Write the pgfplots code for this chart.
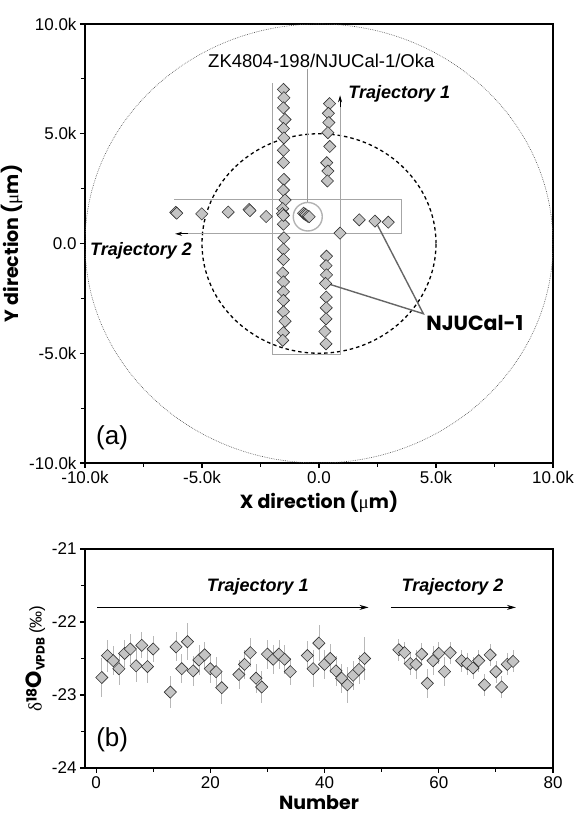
\documentclass[border=0pt]{standalone}
\usepackage{fontspec}
\setmainfont{Liberation Sans}
\newfontfamily\geo{Poppins}
\newfontfamily\serif{Liberation Serif}
\usepackage{pgfplots}
\pgfplotsset{compat=1.18}
\usetikzlibrary{arrows.meta}
\definecolor{mk}{HTML}{C4C4C4}
\definecolor{mkedge}{HTML}{333333}
\pgfplotsset{
  common/.style={
    scale only axis, width=468pt,
    tick align=outside, xtick pos=bottom, ytick pos=left,
    major tick length=5pt, minor tick length=4pt,
    every tick/.style={black, line width=1.1pt},
    axis line style={line width=1.3pt, black},
    ticklabel style={font=\fontsize{17}{20}\selectfont},
    label style={font=\geo\bfseries\fontsize{19}{22}\selectfont},
  },
  dia/.style={only marks, mark=square*, mark size=4.3pt,
    mark options={rotate=45, fill=mk, draw=mkedge, line width=0.6pt}},
}
\begin{document}
\begin{tikzpicture}[x=1pt,y=1pt]
\path[use as bounding box] (0,0) rectangle (576,823);
\begin{axis}[common,
  height=439pt, at={(85pt,360pt)}, anchor=south west,
  xmin=-10, xmax=10, ymin=-10, ymax=10,
  xtick={-10,-5,0,5,10}, xticklabels={-10.0k,-5.0k,0.0,5.0k,10.0k},
  ytick={-10,-5,0,5,10}, yticklabels={-10.0k,-5.0k,0.0,5.0k,10.0k},
  minor xtick={-7.5,-2.5,2.5,7.5}, minor ytick={-7.5,-2.5,2.5,7.5},
  xlabel={X direction ({\serif\mdseries μ}m)},
  ylabel={Y direction ({\serif\mdseries μ}m)},
]
\draw[color=black!70, line width=0.6pt, dash pattern=on 0.7pt off 1.1pt] (axis cs:0,0) ellipse [x radius=10, y radius=10];
\draw[black, line width=1.3pt, dash pattern=on 3.5pt off 3pt] (axis cs:0,0) ellipse [x radius=5, y radius=5];
% guide lines
\draw[black!35, line width=0.7pt] (axis cs:-2.0,7.3) -- (axis cs:-2.0,-5.06) -- (axis cs:0.9,-5.06);
\draw[black!35, line width=0.7pt] (axis cs:0.9,-5.06) -- (axis cs:0.9,6.6);
\draw[-{Stealth[length=7pt,width=4pt]}, black, line width=0.7pt] (axis cs:0.9,6.2) -- (axis cs:0.9,6.75);
\draw[black!35, line width=0.7pt] (axis cs:-6.2,2.03) -- (axis cs:3.53,2.03) -- (axis cs:3.53,0.44) -- (axis cs:-5.6,0.44);
\draw[-{Stealth[length=7pt,width=4pt]}, black, line width=0.7pt] (axis cs:-5.6,0.44) -- (axis cs:-6.15,0.44);
\draw[black!40, line width=1.4pt] (axis cs:-0.5,7.95) -- (axis cs:-0.5,1.87);
\draw[black!30, line width=1.4pt] (axis cs:-0.48,1.22) ellipse [x radius=0.62, y radius=0.65];
\draw[black!60, line width=1.4pt] (axis cs:0.4,-1.84) -- (axis cs:4.46,-3.2) -- (axis cs:2.51,0.82);
\addplot[dia] table {
x y
-1.52 7.02
-1.50 6.64
-1.52 6.18
-1.45 5.65
-1.52 5.24
-1.50 4.81
-1.52 4.25
-1.52 3.69
-1.50 2.92
-1.52 2.43
-1.45 1.98
-1.55 1.59
-1.52 0.88
-1.50 0.26
-1.52 -0.26
-1.52 -0.73
-1.55 -1.34
-1.52 -1.75
-1.52 -2.20
-1.52 -2.59
-1.52 -3.11
-1.45 -3.54
-1.52 -4.06
-1.55 -4.41
0.45 6.37
0.40 5.93
0.42 5.51
0.38 5.05
0.46 4.42
0.33 3.68
0.38 3.30
0.36 2.85
0.32 -0.58
0.30 -1.01
0.32 -1.43
0.28 -1.82
0.31 -2.44
0.31 -2.93
0.30 -3.43
0.25 -4.01
0.30 -4.57
-6.12 1.42
-6.08 1.38
-5.01 1.35
-3.88 1.43
-2.99 1.55
-2.95 1.50
-2.26 1.23
-1.56 1.36
-1.52 1.28
-0.66 1.38
-0.60 1.34
-0.55 1.30
-0.48 1.25
-0.42 1.22
0.90 0.47
1.72 1.08
2.39 1.02
2.96 0.97
};
\node[font=\fontsize{18.5}{20}\selectfont] at (axis cs:0.1,8.34) {ZK4804-198/NJUCal-1/Oka};
\node[font=\bfseries\itshape\fontsize{18}{20}\selectfont, anchor=west, inner sep=0] at (axis cs:1.25,6.83) {Trajectory 1};
\node[font=\bfseries\itshape\fontsize{18}{20}\selectfont, anchor=west, inner sep=0] at (axis cs:-9.79,-0.32) {Trajectory 2};
\node[font=\geo\bfseries\fontsize{20.5}{24}\selectfont, anchor=west, inner sep=0] at (axis cs:4.58,-3.6) {NJUCal-1};
\node[font=\fontsize{26}{28}\selectfont, anchor=west, inner sep=0] at (axis cs:-9.53,-8.84) {(a)};
\end{axis}
\begin{axis}[common,
  height=219pt, at={(85pt,55pt)}, anchor=south west,
  xmin=-1.94, xmax=80, ymin=-24, ymax=-21,
  xtick={0,20,40,60,80}, xticklabels={0,20,40,60,80},
  minor xtick={10,30,50,70},
  ytick={-24,-23,-22,-21}, yticklabels={-24,-23,-22,-21},
  minor ytick={-23.5,-22.5,-21.5},
  xlabel={Number},
  ylabel={{\serif\mdseries\fontsize{19}{20}\selectfont δ}{\fontsize{14}{14}\selectfont\raisebox{5pt}{18}}{\fontsize{22}{22}\selectfont O}{\fontsize{12}{12}\selectfont\raisebox{-3pt}{VPDB}} {\rmfamily\mdseries\fontsize{17}{20}\selectfont(‰)}},
]
\draw[-{Stealth[length=9pt,width=5pt]}, black, line width=0.9pt] (axis cs:0.2,-21.8) -- (axis cs:47.7,-21.8);
\draw[-{Stealth[length=9pt,width=5pt]}, black, line width=0.9pt] (axis cs:51.6,-21.8) -- (axis cs:73.5,-21.8);
\node[font=\bfseries\itshape\fontsize{18}{20}\selectfont] at (axis cs:28.3,-21.52) {Trajectory 1};
\node[font=\bfseries\itshape\fontsize{18}{20}\selectfont] at (axis cs:62.4,-21.52) {Trajectory 2};
\node[font=\fontsize{26}{28}\selectfont, anchor=west, inner sep=0] at (axis cs:0,-23.62) {(b)};
\addplot[dia, error bars/.cd, y dir=both, y explicit, error mark=none,
  error bar style={black!28, line width=0.6pt}] table[x=n, y=v, y error=e] {
n v e
1 -22.76 0.27
2 -22.46 0.22
3 -22.53 0.2
4 -22.64 0.22
5 -22.43 0.18
6 -22.37 0.2
7 -22.60 0.22
8 -22.32 0.18
9 -22.61 0.22
10 -22.37 0.18
13 -22.96 0.22
14 -22.34 0.2
15 -22.64 0.2
16 -22.27 0.25
17 -22.67 0.2
18 -22.52 0.2
19 -22.45 0.18
20 -22.64 0.2
21 -22.68 0.2
22 -22.90 0.22
25 -22.72 0.2
26 -22.58 0.2
27 -22.42 0.2
28 -22.77 0.2
29 -22.89 0.22
30 -22.44 0.2
31 -22.51 0.2
32 -22.44 0.2
33 -22.51 0.2
34 -22.68 0.18
37 -22.46 0.2
38 -22.64 0.25
39 -22.29 0.25
40 -22.58 0.2
41 -22.50 0.2
42 -22.67 0.2
43 -22.77 0.2
44 -22.86 0.25
45 -22.73 0.2
46 -22.65 0.2
47 -22.50 0.3
53 -22.38 0.15
54 -22.42 0.15
55 -22.57 0.15
56 -22.58 0.2
57 -22.44 0.15
58 -22.84 0.2
59 -22.53 0.2
60 -22.43 0.15
61 -22.68 0.2
62 -22.42 0.15
64 -22.53 0.15
65 -22.57 0.15
66 -22.63 0.15
67 -22.53 0.15
68 -22.86 0.15
69 -22.45 0.15
70 -22.68 0.15
71 -22.89 0.15
72 -22.58 0.15
73 -22.54 0.15
};
\end{axis}
\end{tikzpicture}
\end{document}
